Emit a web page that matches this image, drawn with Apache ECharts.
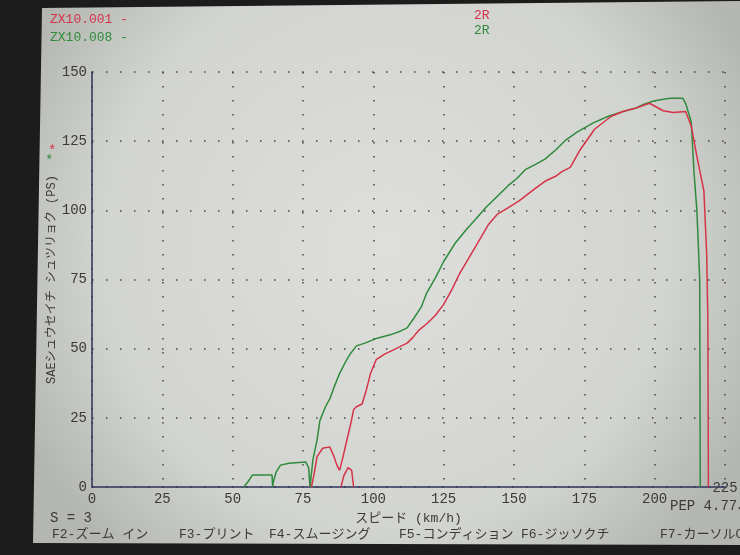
<!DOCTYPE html>
<html><head><meta charset="utf-8">
<script src="https://cdn.jsdelivr.net/npm/echarts@6/dist/echarts.min.js"></script>
<style>html,body{margin:0;background:#1c1c1c}#c{width:740px;height:555px}</style>
</head><body><div id="c"></div>
<script>
const xTicks = [0,25,50,75,100,125,150,175,200,225];
const yTicks = [0,25,50,75,100,125,150];
// ZX10.001 (red) : speed km/h, power PS
const run001 = [[78,0],[79,5],[80,11],[82,14],[84.5,14.5],[86,11],[87,8],[88,6],[89,10],[90.6,17],[92,23],[93,28],[94,29],[96,30],[97.5,35],[99,41],[101,46],[104,48],[107,49.5],[110,51],[112,52],[114,54],[116,56.5],[119,59],[122,62],[125,66],[128,71.5],[130.6,77],[133.5,82],[136.6,87.3],[141,95],[144,98.5],[148,101],[151.8,103.4],[157.7,108],[161,110.5],[164.8,112.3],[167,114],[170,115.5],[173.6,122],[178.7,129.4],[184.6,134],[189,135.8],[193.4,137],[198.2,138.7],[203,136],[206.6,135.4],[211,135.7],[213,130.5],[215,119.5],[217.5,107],[218.5,84],[218.9,60.7],[219,30],[219.1,0]];
const run001b = [[88.5,0],[89.5,4],[91,7],[92.3,6],[93,0]];
// ZX10.008 (green)
const run008 = [[54,0],[55.5,2],[57,4.3],[60,4.3],[64,4.3],[64.2,0],[64.5,2],[65.5,5.5],[67,7.9],[70,8.6],[76,9],[77,7],[77.5,0],[78,0],[78.5,9.7],[80,17],[81,24],[83,29],[84.6,32],[86,36],[88,41],[90,45],[91.7,48],[94,51],[97,52],[101.4,53.8],[106,55],[110,56.5],[112,57.5],[114.4,61],[117,65],[119,70.2],[122,75.5],[125,81.5],[129,88],[133,93],[136.5,97],[140,101],[144,105],[148,109],[151,111.5],[154,114.7],[157.5,116.5],[161,118.5],[165,122],[168.5,125.5],[172.4,128.3],[178,131.5],[183.5,134],[188,135.5],[193.4,137],[196,138.3],[199.3,139.4],[202,140],[205.5,140.5],[210,140.5],[211,138.7],[213,132],[214,113.5],[215,100],[215.5,88],[216,75],[216.1,40],[216.2,0]];
const fnKeys = [["F2-ズーム イン",52],["F3-プリント",179],["F4-スムージング",269],["F5-コンディション",399],["F6-ジッソクチ",521],["F7-カーソルON",660]];

const RED = '#d53448', GREEN = '#2f8a3c', INK = '#3a3a3a';
const FONT = '"Liberation Mono","DejaVu Sans Mono","Noto Sans CJK JP",monospace';
const chart = echarts.init(document.getElementById('c'));
const txt = (t, x, y, color, size, extra) => Object.assign({type:'text', x, y, z:10, style:{text:t, fill:color, font:`${size||13}px ${FONT}`}}, extra||{});
const graphics = [
  {type:'polygon', z:-100, shape:{points:[[42,8],[740,1],[740,545],[33,543]]},
   style:{fill:{type:'radial', x:0.5, y:0.45, r:0.75, colorStops:[{offset:0,color:'#dedfdc'},{offset:0.7,color:'#d2d4d0'},{offset:1,color:'#b4b6b2'}]}}},
  txt('ZX10.001 -', 50, 13, RED),
  txt('ZX10.008 -', 50, 31, GREEN),
  txt('2R', 474, 9, RED),
  txt('2R', 474, 24, GREEN),
  txt('*', 48, 144, RED, 14),
  txt('*', 45, 154, GREEN, 14),
  txt('S = 3', 50, 511, INK, 14),
  txt('PEP 4.77J', 670, 499, INK, 14),
];
fnKeys.forEach(([t,x]) => graphics.push(txt(t, x, 528, INK, 13)));

const axisLabel = {color: INK, fontFamily: FONT, fontSize: 14};
const lastX = xTicks[xTicks.length - 1];
chart.setOption({
  animation: false,
  backgroundColor: '#1c1c1c',
  graphic: graphics,
  grid: {left: 92, right: 15, top: 72, bottom: 68},
  xAxis: {
    type: 'value', min: 0, max: 225, interval: 25,
    name: 'スピード (km/h)', nameLocation: 'middle', nameGap: 25,
    nameTextStyle: {color: INK, fontFamily: FONT, fontSize: 13},
    axisLine: {show: true, lineStyle: {color: '#2e3258', width: 1.5}},
    axisTick: {show: false},
    axisLabel: Object.assign({margin: 5, showMaxLabel: false, formatter: v => (xTicks.includes(v) && v !== lastX) ? String(v) : ''}, axisLabel),
    splitLine: {show: true, lineStyle: {color: '#444', width: 1.5, type: [1.5, 12.5]}}
  },
  yAxis: {
    type: 'value', min: 0, max: 150, interval: 25,
    name: 'SAEシュウセイチ シュツリョク (PS)', nameLocation: 'middle', nameGap: 34, nameMoveOverlap: false,
    nameTextStyle: {color: INK, fontFamily: FONT, fontSize: 12},
    axisLine: {show: true, lineStyle: {color: '#2e3258', width: 1.5}},
    axisTick: {show: false},
    axisLabel: Object.assign({margin: 5, formatter: v => yTicks.includes(v) ? String(v) : ''}, axisLabel),
    splitLine: {show: true, lineStyle: {color: '#444', width: 1.5, type: [1.5, 12.5]}}
  },
  series: [
    {type: 'line', name: 'ZX10.008', data: run008, showSymbol: false, lineStyle: {color: GREEN, width: 1.5}, z: 3},
    {type: 'line', name: 'ZX10.001', data: run001, showSymbol: false, lineStyle: {color: RED, width: 1.5}, z: 4},
    {type: 'line', name: 'ZX10.001b', data: run001b, showSymbol: false, lineStyle: {color: RED, width: 1.5}, z: 4}
  ]
});
// last x tick label sits a little higher on the tilted screen
const px = chart.convertToPixel({xAxisIndex: 0}, lastX);
graphics.push({type:'text', x: px, y: 481, z: 10, style:{text: String(lastX), fill: INK, font: `14px ${FONT}`, align: 'center'}});
chart.setOption({graphic: graphics});
</script>
</body></html>
